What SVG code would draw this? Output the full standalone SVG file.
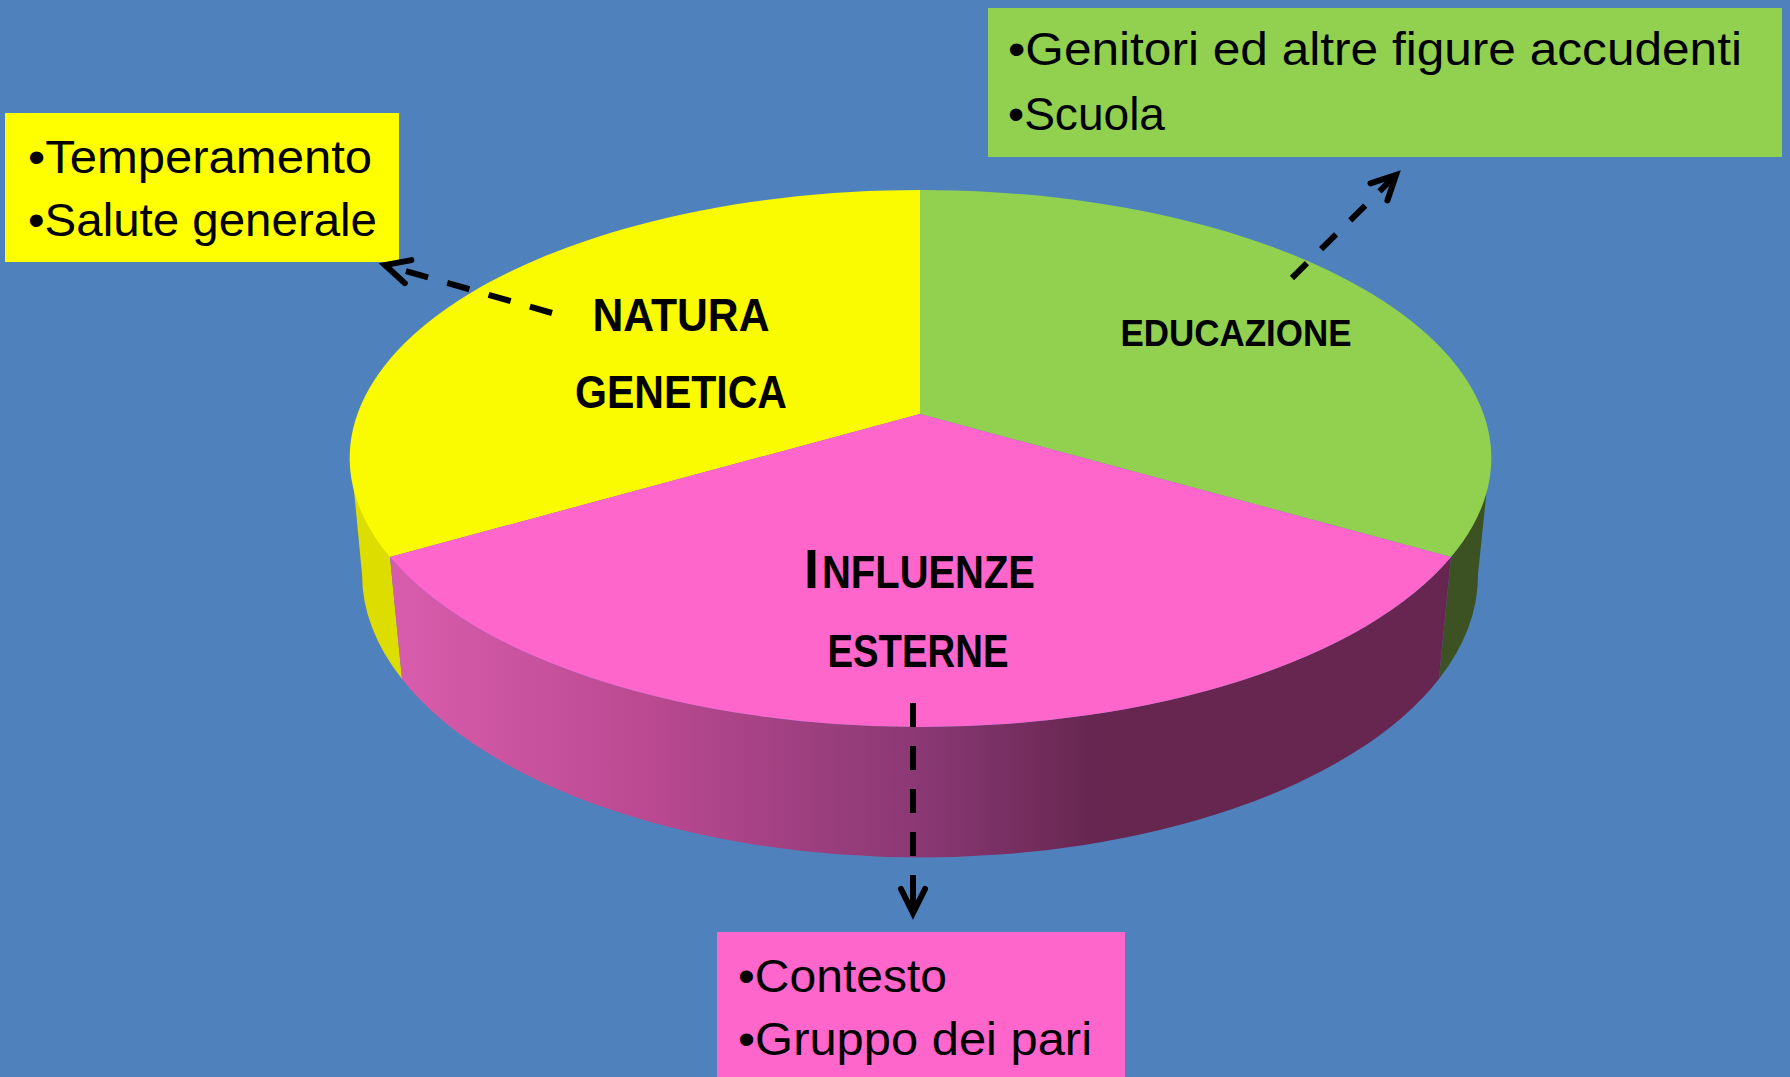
<svg xmlns="http://www.w3.org/2000/svg" width="1790" height="1077" viewBox="0 0 1790 1077">
<style>
.box-text{font-family:"Liberation Sans",Arial,sans-serif;font-size:46px;fill:#000}
.pie-label{font-family:"Liberation Sans",Arial,sans-serif;font-weight:bold;fill:#000}
.conn{fill:none;stroke:#000;stroke-width:6;stroke-linecap:butt}
</style>
<defs>
<linearGradient id="pinkSide" gradientUnits="userSpaceOnUse" x1="402" y1="0" x2="1439" y2="0">
<stop offset="0" stop-color="#D85CAC"/>
<stop offset="0.25" stop-color="#B8488F"/>
<stop offset="0.5" stop-color="#8A3874"/>
<stop offset="0.67" stop-color="#662650"/>
<stop offset="1" stop-color="#662650"/>
</linearGradient>
<marker id="ah" markerUnits="userSpaceOnUse" markerWidth="40" markerHeight="40" viewBox="-30 -20 40 40" refX="0" refY="0" orient="auto" overflow="visible">
<path d="M-24,-12 L0,0 L-24,12" fill="none" stroke="#000" stroke-width="6" stroke-linecap="round" stroke-linejoin="miter"/>
</marker>
</defs>
<rect x="0" y="0" width="1790" height="1077" fill="#4F81BD"/>

<g id="pie">
<path d="M351,459 L362,574 A558,283 0 0,0 402,679 L390,557 Z" fill="#DDDD00"/>
<path d="M1490,459 L1478,574 A558,283 0 0,1 1439,679 L1451,557 Z" fill="#3C5222"/>
<path d="M390,557 L402,679 A558,283 0 0,0 1439,679 L1451,557 A570,268 0 0,1 390,557 Z" fill="url(#pinkSide)"/>
<path d="M920,414 L920,190 A570,268 0 0,0 390,557 Z" fill="#FAFA00"/>
<path d="M920,414 L920,190 A570,268 0 0,1 1451,557 Z" fill="#92D050"/>
<path d="M920,414 L390,557 A570,268 0 0,0 1451,557 Z" fill="#FF66CC"/>
</g>

<g id="natura">
<text class="pie-label" x="681" y="331" font-size="46" text-anchor="middle" textLength="177" lengthAdjust="spacingAndGlyphs">NATURA</text>
<text class="pie-label" x="681" y="408" font-size="46" text-anchor="middle" textLength="212" lengthAdjust="spacingAndGlyphs">GENETICA</text>
</g>
<g id="educazione">
<text class="pie-label" x="1236" y="346" font-size="36" text-anchor="middle" textLength="231" lengthAdjust="spacingAndGlyphs">EDUCAZIONE</text>
</g>
<g id="influenze">
<text class="pie-label" x="804" y="588" font-size="56" textLength="15" lengthAdjust="spacingAndGlyphs">I</text>
<text class="pie-label" x="822" y="588" font-size="46" textLength="213" lengthAdjust="spacingAndGlyphs">NFLUENZE</text>
<text class="pie-label" x="918" y="667" font-size="46" text-anchor="middle" textLength="181" lengthAdjust="spacingAndGlyphs">ESTERNE</text>
</g>

<g id="box-natura">
<rect x="5" y="113" width="394" height="149" fill="#FFFF00"/>
<text class="box-text" x="28" y="173" textLength="344" lengthAdjust="spacingAndGlyphs">•Temperamento</text>
<text class="box-text" x="28" y="236" textLength="349" lengthAdjust="spacingAndGlyphs">•Salute generale</text>
</g>
<g id="box-educazione">
<rect x="988" y="8" width="794" height="149" fill="#92D050"/>
<text class="box-text" x="1008" y="65" textLength="734" lengthAdjust="spacingAndGlyphs">•Genitori ed altre figure accudenti</text>
<text class="box-text" x="1008" y="130" textLength="157" lengthAdjust="spacingAndGlyphs">•Scuola</text>
</g>
<g id="box-influenze">
<rect x="717" y="932" width="408" height="150" fill="#FF66CC"/>
<text class="box-text" x="738" y="992" textLength="209" lengthAdjust="spacingAndGlyphs">•Contesto</text>
<text class="box-text" x="738" y="1055" textLength="354" lengthAdjust="spacingAndGlyphs">•Gruppo dei pari</text>
</g>

<g id="connectors">
<path class="conn" d="M552,313 L385,265" stroke-dasharray="23 20" marker-end="url(#ah)"/>
<path class="conn" d="M1292,278 L1396,175" stroke-dasharray="21 20" marker-end="url(#ah)"/>
<path class="conn" d="M913,703 L913,913" stroke-dasharray="24 19 24 19 24 19 24 19 40 100" marker-end="url(#ah)"/>
</g>
</svg>
